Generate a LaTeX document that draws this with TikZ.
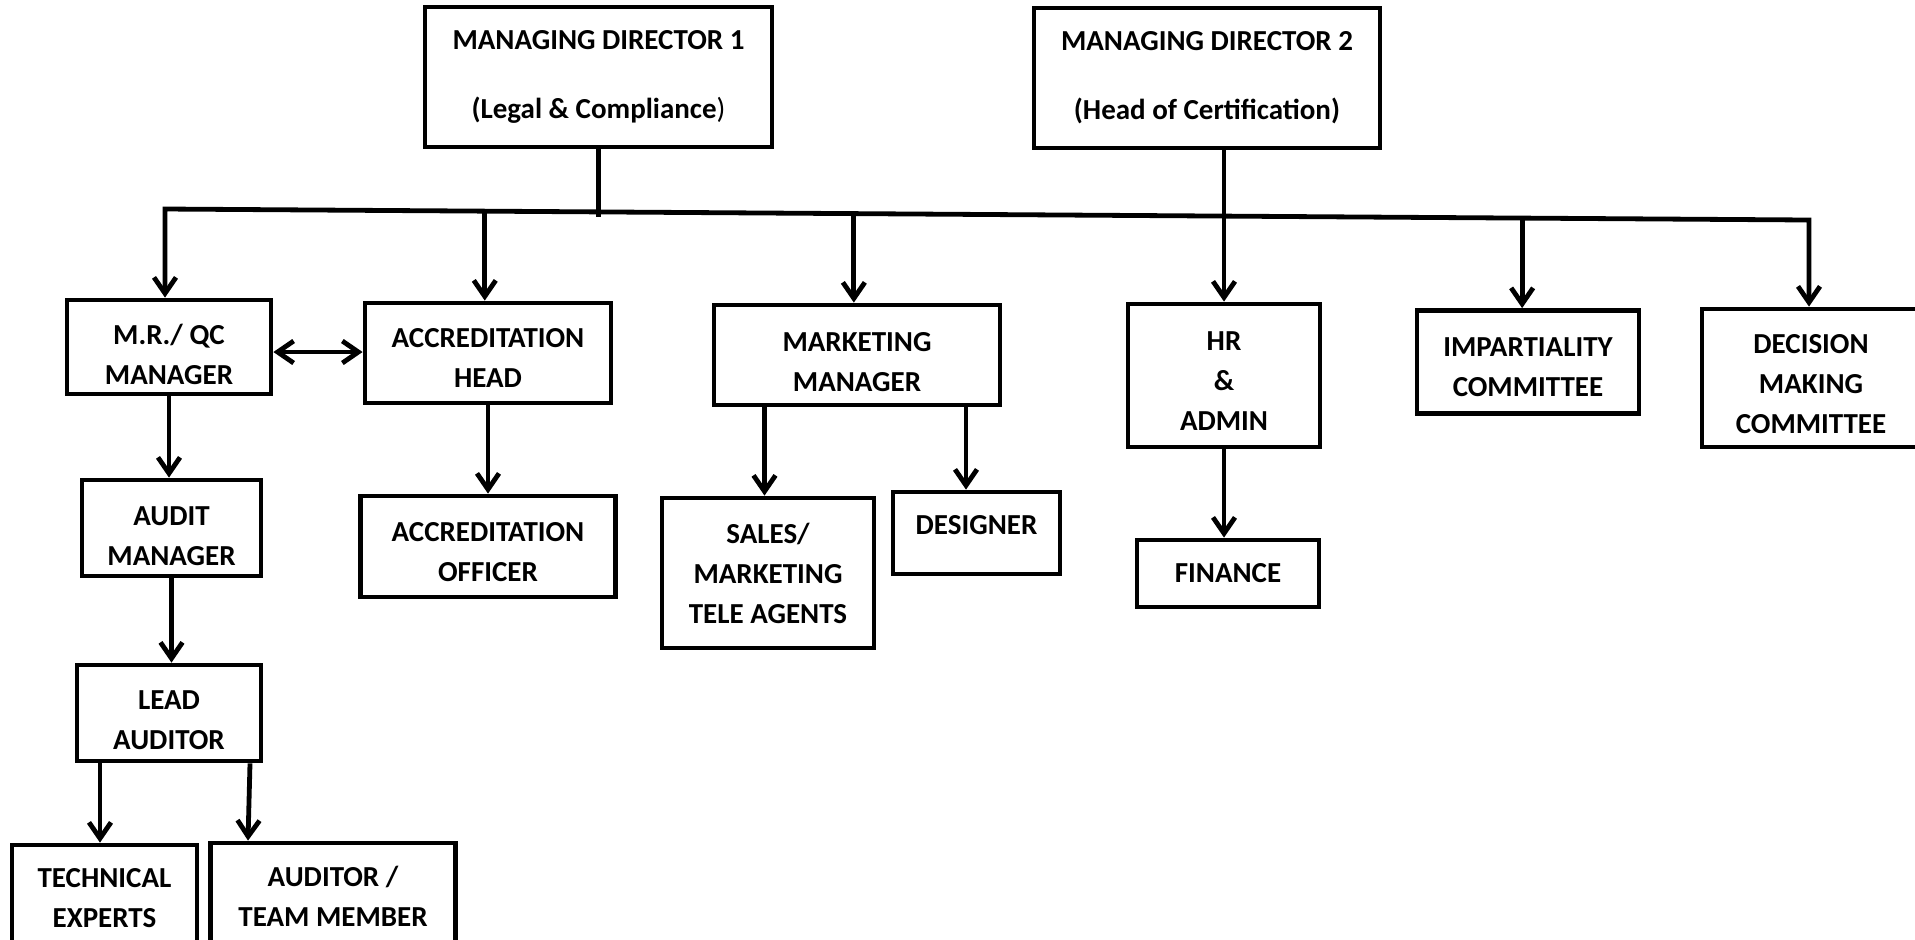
\documentclass[tikz,border=0pt]{standalone}
\usepackage{fontspec}
\setmainfont{Carlito}
\usetikzlibrary{arrows.meta,calc}
\newcommand\tp[1]{\rule{0pt}{#1pt}}
\begin{document}
\begin{tikzpicture}[x=0.5pt,y=-0.5pt,
  box/.style={draw, line width=2.4pt, align=center, font=\fontsize{14.5}{20}\selectfont\bfseries, inner sep=0pt},
  sz/.style 2 args={minimum width=#1*0.5pt, minimum height=#2*0.5pt},
  conn/.style={line width=2.4pt},
  arr/.style={line width=2.4pt, -{Straight Barb[length=8pt,width=11pt]}},
  dbl/.style={line width=2.4pt, line join=miter, {Straight Barb[length=8pt,width=11pt]}-{Straight Barb[length=8pt,width=11pt]}}]
\useasboundingbox (0,0) rectangle (1915,939);
% nodes
\node[box,sz={347}{140}] (md1) at (598.5,77) {MANAGING DIRECTOR 1\\[14.5pt](Legal \& Compliance{\mdseries )}};
\node[box,sz={346}{140}] (md2) at (1207,78) {MANAGING DIRECTOR 2\\[14.5pt](Head of Certification)};
\node[box,sz={204}{94}] (mr) at (169,347) {\tp{17.1}M.R./ QC\\MANAGER};
\node[box,sz={246}{100}] (ah) at (488,353) {\tp{14.1}ACCREDITATION\\HEAD};
\node[box,sz={286}{100}] (mm) at (857,355) {\tp{16.5}MARKETING\\MANAGER};
\node[box,sz={192}{143}] (hr) at (1224,375.5) {\tp{15.3}HR\\\&\\ADMIN};
\node[box,sz={222}{103}] (imp) at (1528,362) {\tp{14.1}IMPARTIALITY\\COMMITTEE};
\node[box,sz={218}{138}] (dm) at (1811,378) {\tp{15.9}DECISION\\MAKING\\COMMITTEE};
\node[box,sz={179}{96}] (am) at (171.5,528) {\tp{17.7}AUDIT\\MANAGER};
\node[box,sz={184}{96}] (la) at (169,713) {\tp{16.5}LEAD\\AUDITOR};
\node[box,sz={185}{106}] (te) at (104.5,898) {TECHNICAL\\EXPERTS};
\node[box,sz={245}{107}] (atm) at (333,896.5) {AUDITOR /\\TEAM MEMBER};
\node[box,sz={255}{101}] (ao) at (488,546.5) {\tp{14.7}ACCREDITATION\\OFFICER};
\node[box,sz={212}{150}] (sales) at (768,573) {SALES/\\MARKETING\\TELE AGENTS};
\node[box,sz={167}{82}] (des) at (976.5,533) {\raisebox{8pt}{DESIGNER}};
\node[box,sz={182}{67}] (fin) at (1228,573.5) {FINANCE};
% bus and connectors
\coordinate (busL) at (165,209);
\coordinate (busR) at (1809,220);
\draw[dbl] (busL |- mr.north) -- (busL) -- (busR) -- (busR |- dm.north);
\draw[conn] (md1.south) -- ++(0,68);
\draw[arr] (hr.north |- md2.south) -- (hr.north);
\coordinate (jA) at ($(busL)!0.1945!(busR)$);
\coordinate (jM) at ($(busL)!0.419!(busR)$);
\coordinate (jI) at ($(busL)!0.8255!(busR)$);
\draw[arr] (jA) -- (jA |- ah.north);
\draw[arr] (jM) -- (jM |- mm.north);
\draw[arr] (jI) -- (jI |- imp.north);
\coordinate (dy) at (0,352);
\draw[dbl] (mr.east |- dy) -- (ah.west |- dy);
\draw[arr] (mr.south) -- (mr.south |- am.north);
\draw[arr] (am.south) -- (am.south |- la.north);
\draw[arr] ([xshift=-34.5pt]la.south) -- ([xshift=-34.5pt]la.south |- te.north);
\draw[arr] ([xshift=40.5pt]la.south) -- ([xshift=-42.5pt]atm.north);
\draw[arr] (ah.south) -- (ah.south |- ao.north);
\draw[arr] ([xshift=-46.25pt]mm.south) -- ([xshift=-46.25pt]mm.south |- sales.north);
\draw[arr] ([xshift=54.5pt]mm.south) -- ([xshift=54.5pt]mm.south |- des.north);
\draw[arr] (hr.south) -- (hr.south |- fin.north);
\end{tikzpicture}
\end{document}
